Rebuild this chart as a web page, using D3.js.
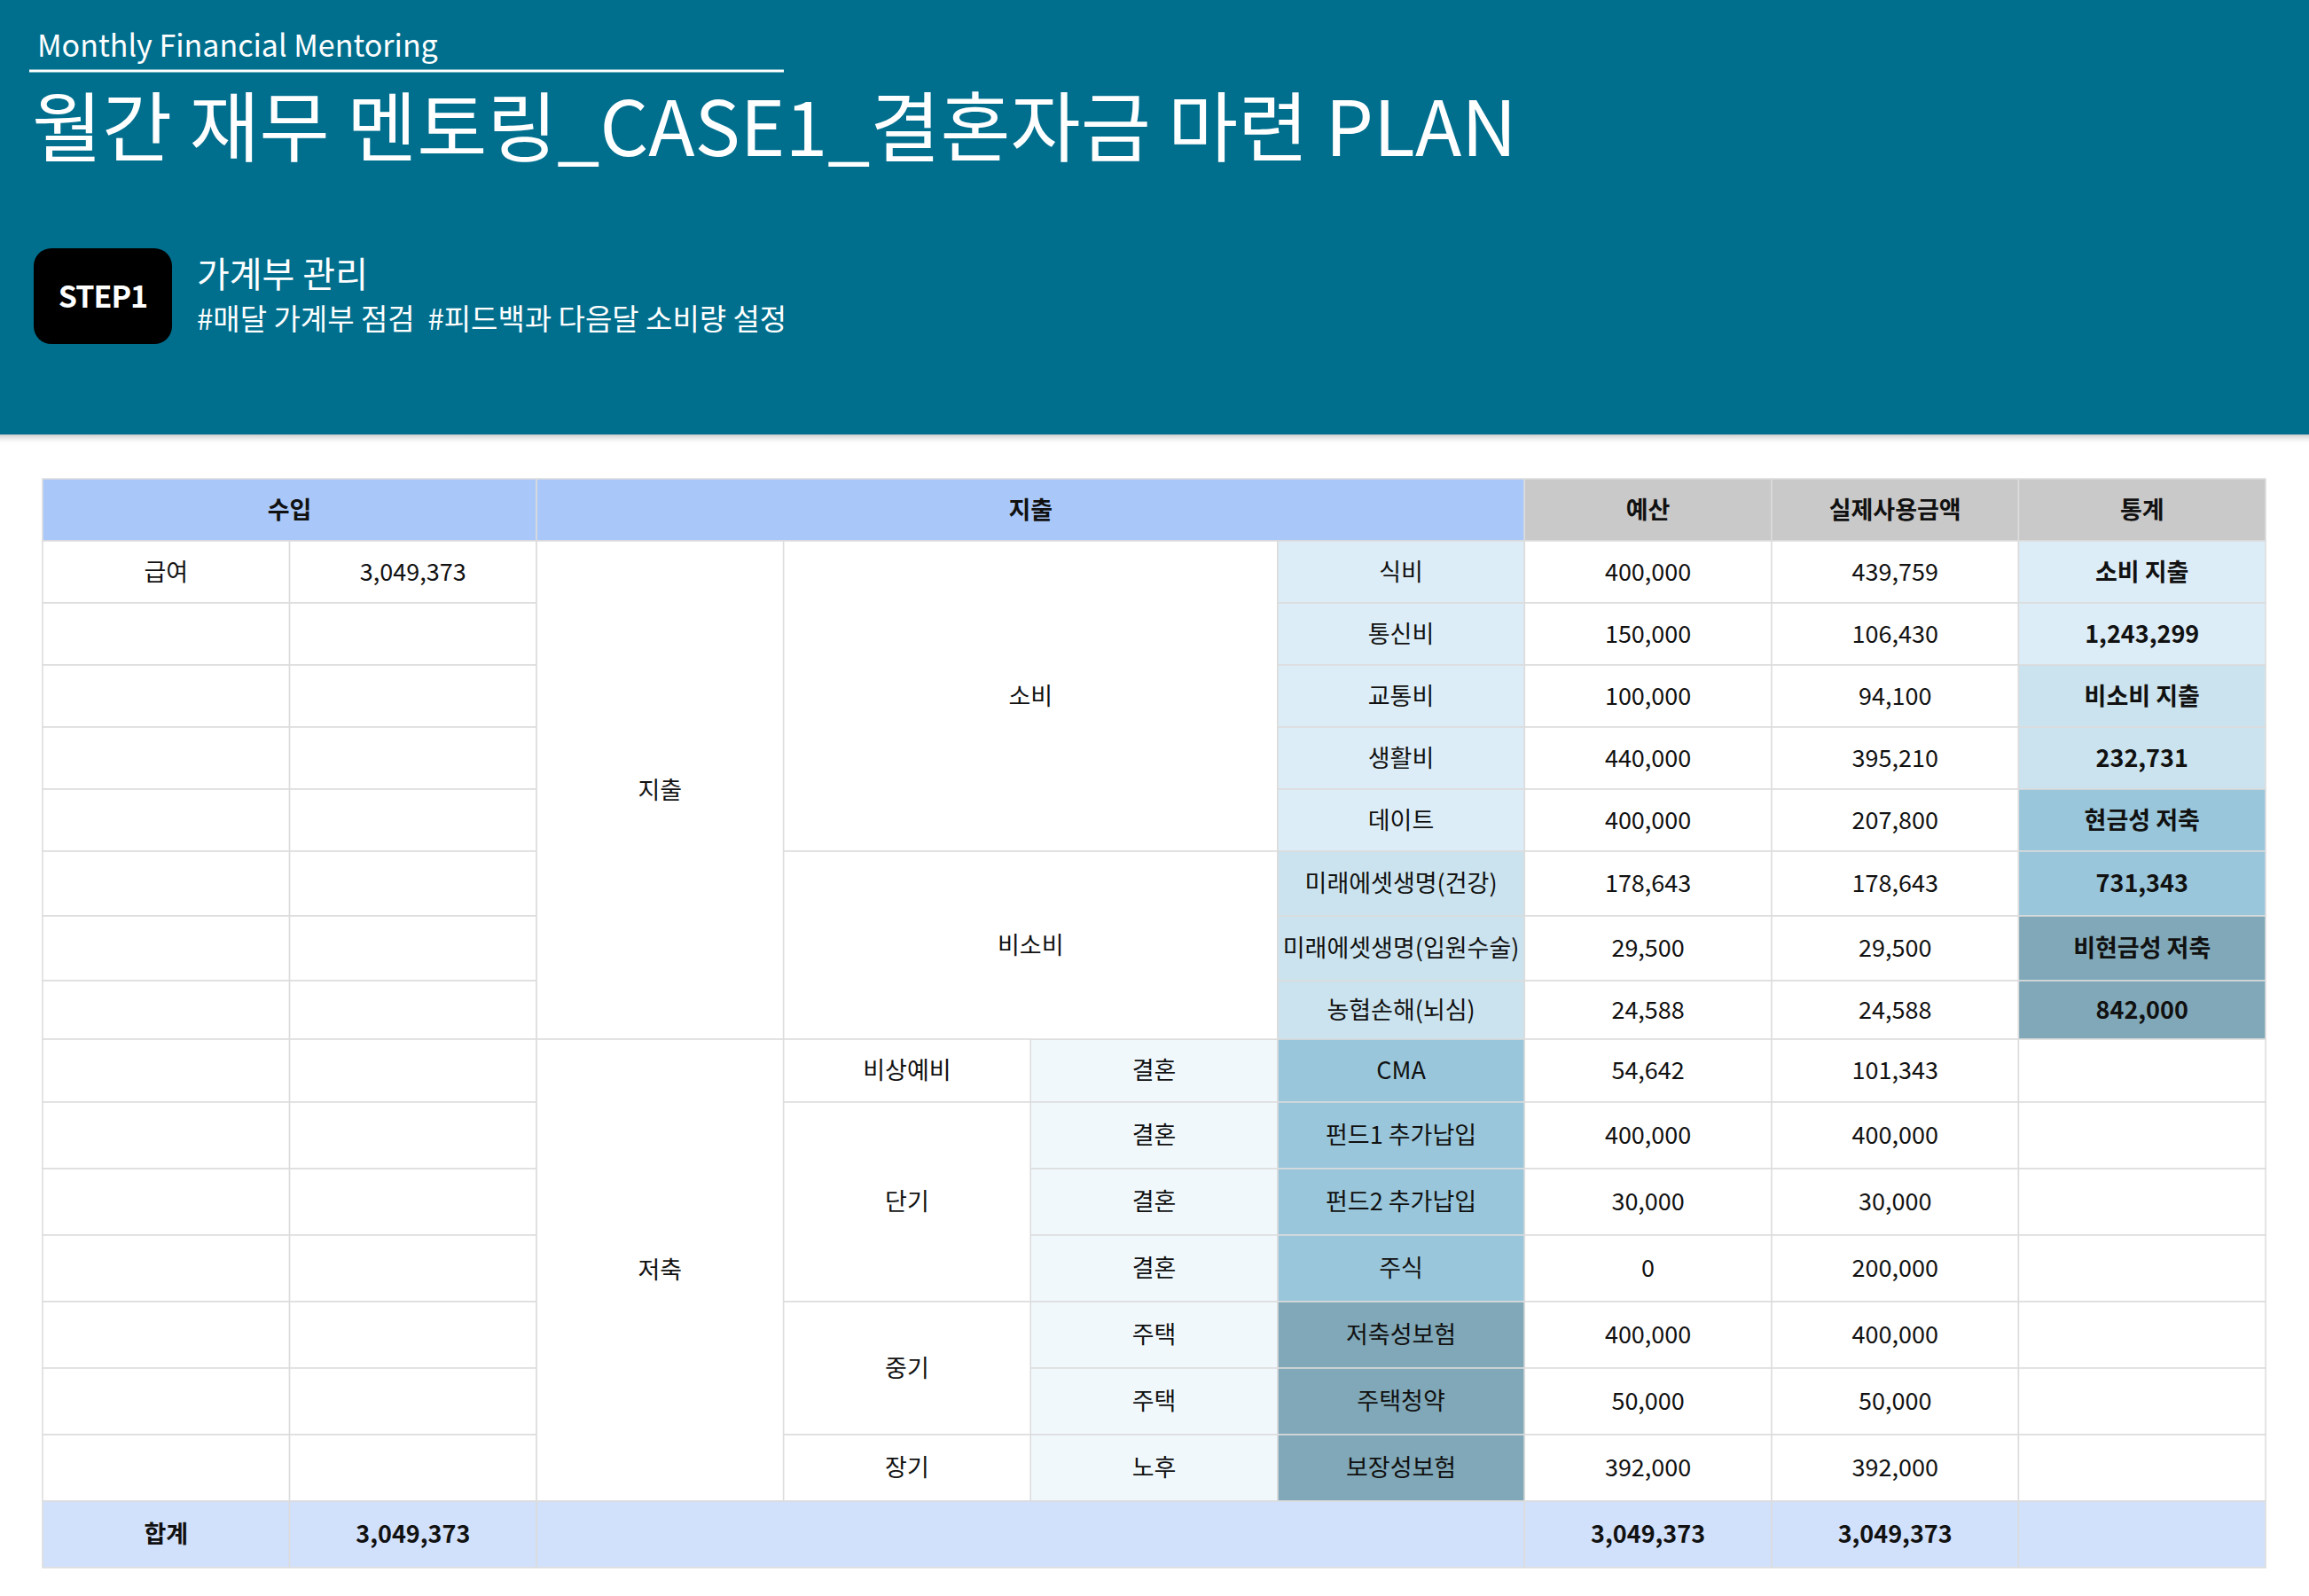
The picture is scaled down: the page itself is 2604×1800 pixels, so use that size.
<!DOCTYPE html>
<html>
<head>
<meta charset="utf-8">
<script src="https://d3js.org/d3.v7.min.js"></script>
<style>
  body { margin: 0; background: #fff; }
  svg text { font-family: "Noto Sans CJK KR", "Noto Sans", sans-serif; }
</style>
</head>
<body>
<svg id="chart" width="2604" height="1800"></svg>
<script>
// table data
const headers = ["수입", "지출", "예산", "실제사용금액", "통계"];
const incomeLabel = "급여";
const incomeValue = 3049373;
const groups = ["지출", "저축"];
const spendTypes = ["소비", "비소비"];
const saveTerms = ["비상예비", "단기", "중기", "장기"];
const savePurposes = ["결혼", "결혼", "결혼", "결혼", "주택", "주택", "노후"];
const items = ["식비", "통신비", "교통비", "생활비", "데이트",
  "미래에셋생명(건강)", "미래에셋생명(입원수술)", "농협손해(뇌심)",
  "CMA", "펀드1 추가납입", "펀드2 추가납입", "주식", "저축성보험", "주택청약", "보장성보험"];
const budgets = [400000, 150000, 100000, 440000, 400000, 178643, 29500, 24588,
  54642, 400000, 30000, 0, 400000, 50000, 392000];
const actuals = [439759, 106430, 94100, 395210, 207800, 178643, 29500, 24588,
  101343, 400000, 30000, 200000, 400000, 50000, 392000];
const statLabels = ["소비 지출", "1,243,299", "비소비 지출", "232,731", "현금성 저축", "731,343", "비현금성 저축", "842,000"];
const totalLabel = "합계";
const totalBudget = 3049373, totalActual = 3049373;

const fmt = d3.format(",");
const svg = d3.select("#chart");

// header band
svg.append("defs").append("linearGradient").attr("id", "shade")
  .attr("x1", 0).attr("x2", 0).attr("y1", 0).attr("y2", 1)
  .selectAll("stop").data([["0%", "#999", 0.7], ["100%", "#fff", 0]]).join("stop")
  .attr("offset", d => d[0]).attr("stop-color", d => d[1]).attr("stop-opacity", d => d[2]);
svg.append("rect").attr("x", 0).attr("y", 488).attr("width", 2604).attr("height", 14).attr("fill", "url(#shade)");
svg.append("rect").attr("x", 0).attr("y", 0).attr("width", 2604).attr("height", 490).attr("fill", "#006f8e");

svg.append("text").attr("x", 42).attr("y", 64).attr("fill", "#fff").attr("font-size", 34)
  .text("Monthly Financial Mentoring");
svg.append("line").attr("x1", 33).attr("x2", 884).attr("y1", 80).attr("y2", 80)
  .attr("stroke", "#fff").attr("stroke-width", 3);
svg.append("text").attr("x", 36).attr("y", 176).attr("fill", "#fff").attr("font-size", 86)
  .text("월간 재무 멘토링_CASE1_결혼자금 마련 PLAN");
svg.append("rect").attr("x", 38).attr("y", 280).attr("width", 156).attr("height", 108).attr("rx", 20).attr("fill", "#000");
svg.append("text").attr("x", 116).attr("y", 347).attr("text-anchor", "middle").attr("fill", "#fff")
  .attr("font-size", 34).attr("font-weight", "bold").attr("letter-spacing", -1).text("STEP1");
svg.append("text").attr("x", 222).attr("y", 324).attr("fill", "#fff").attr("font-size", 40).text("가계부 관리");
svg.append("text").attr("x", 222).attr("y", 372).attr("fill", "#fff").attr("font-size", 33)
  .attr("xml:space", "preserve").text("#매달 가계부 점검  #피드백과 다음달 소비량 설정");

// table geometry
const x = d3.scaleLinear().domain([0, 9]).range([48, 2555]);
const rowH = [70, 70, 70, 70, 70, 70, 73, 73, 66, 71, 75, 75, 75, 75, 75, 75, 75];
const rowEdges = [540];
rowH.forEach(h => rowEdges.push(rowEdges[rowEdges.length - 1] + h));
const y = r => rowEdges[r];

const C = {
  head1: "#a9c8f9", head2: "#c9c9c9", spend: "#ddedf7", nonspend: "#cbe3ee",
  cash: "#99c6da", noncash: "#80a8b8", purpose: "#f0f8fc", total: "#d2e1fb", plain: "#fff"
};

// build cell list
const cells = [];
const add = (c, cs, r, rs, text, fill, bold) => cells.push({ c, cs, r, rs, text, fill: fill || C.plain, bold });
add(0, 2, 0, 1, headers[0], C.head1, true);
add(2, 4, 0, 1, headers[1], C.head1, true);
add(6, 1, 0, 1, headers[2], C.head2, true);
add(7, 1, 0, 1, headers[3], C.head2, true);
add(8, 1, 0, 1, headers[4], C.head2, true);
for (let i = 0; i < items.length; i++) {
  const r = i + 1;
  add(0, 1, r, 1, i === 0 ? incomeLabel : "");
  add(1, 1, r, 1, i === 0 ? fmt(incomeValue) : "");
  const fill = i < 5 ? C.spend : i < 8 ? C.nonspend : i < 12 ? C.cash : C.noncash;
  add(5, 1, r, 1, items[i], fill);
  add(6, 1, r, 1, fmt(budgets[i]));
  add(7, 1, r, 1, fmt(actuals[i]));
  if (i < 8) {
    const sf = [C.spend, C.nonspend, C.cash, C.noncash][Math.floor(i / 2)];
    add(8, 1, r, 1, statLabels[i], sf, true);
  } else {
    add(8, 1, r, 1, "");
    add(4, 1, r, 1, savePurposes[i - 8], C.purpose);
  }
}
add(2, 1, 1, 8, groups[0]);
add(2, 1, 9, 7, groups[1]);
add(3, 2, 1, 5, spendTypes[0]);
add(3, 2, 6, 3, spendTypes[1]);
[[9, 1], [10, 3], [13, 2], [15, 1]].forEach((d, k) => add(3, 1, d[0], d[1], saveTerms[k]));
add(0, 1, 16, 1, totalLabel, C.total, true);
add(1, 1, 16, 1, fmt(incomeValue), C.total, true);
add(2, 4, 16, 1, "", C.total);
add(6, 1, 16, 1, fmt(totalBudget), C.total, true);
add(7, 1, 16, 1, fmt(totalActual), C.total, true);
add(8, 1, 16, 1, "", C.total);

const g = svg.append("g").selectAll("g").data(cells).join("g");
g.append("rect")
  .attr("x", d => x(d.c)).attr("y", d => y(d.r))
  .attr("width", d => x(d.c + d.cs) - x(d.c)).attr("height", d => y(d.r + d.rs) - y(d.r))
  .attr("fill", d => d.fill).attr("stroke", "#dcdcdc").attr("stroke-width", 1.5);
g.append("text")
  .attr("x", d => (x(d.c) + x(d.c + d.cs)) / 2)
  .attr("y", d => (y(d.r) + y(d.r + d.rs)) / 2)
  .attr("dy", "0.36em").attr("text-anchor", "middle")
  .attr("font-size", 27).attr("fill", "#111")
  .attr("font-weight", d => d.bold ? "bold" : "normal")
  .text(d => d.text);
</script>
</body>
</html>
